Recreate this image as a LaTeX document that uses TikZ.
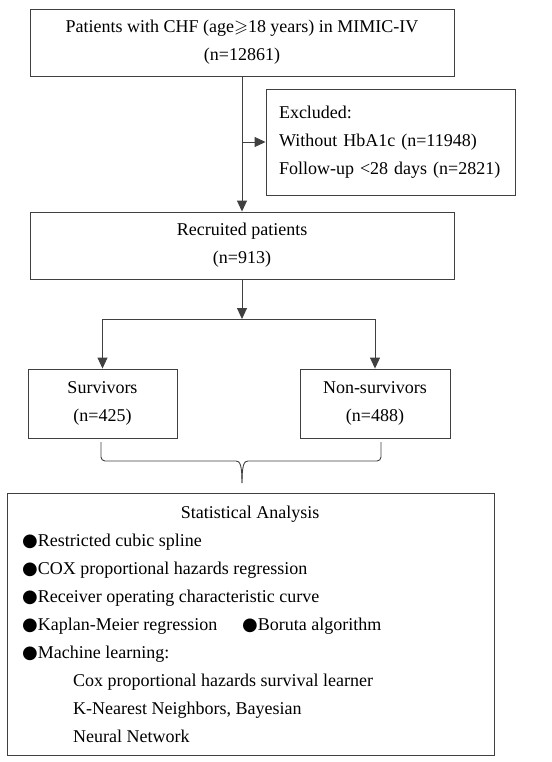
\documentclass[tikz,border=0pt]{standalone}
\usepackage{amssymb}
\usepackage{fontspec}
\setmainfont{Liberation Serif}
\newfontfamily\dotfont{DejaVu Sans}
\usetikzlibrary{arrows.meta}
\newcommand{\blt}{{\dotfont ●}}
\tikzset{
  box/.style={draw=black!75, line width=0.9pt, inner sep=0pt, align=center},
  txt/.style={font=\fontsize{18}{28}\selectfont},
  link/.style={draw=black!75, line width=0.9pt},
  arr/.style={link, -{Triangle[length=11pt,width=10pt]}}
}
\begin{document}
\begin{tikzpicture}[x=1pt,y=-1pt,txt]
\useasboundingbox (0,0) rectangle (551,762);

\node[box, minimum width=424pt, minimum height=67pt] (pop) at (242,42.5)
  {Patients with CHF (age$\geqslant$18 years) in MIMIC-IV\\(n=12861)};
\node[box, minimum width=249pt, minimum height=106pt, text width=223pt,
  inner xsep=13pt, align=left] (excl) at (390.5,142)
  {Excluded:\\Without HbA1c (n=11948)\\Follow-up <28 days (n=2821)};
\node[box, minimum width=424pt, minimum height=67pt] (recr) at (242,245.5)
  {Recruited patients\\(n=913)};
\node[box, minimum width=149pt, minimum height=69pt] (surv) at (102.5,403.5)
  {Survivors\\(n=425)};
\node[box, minimum width=150pt, minimum height=69pt] (nonsurv) at (375,403.5)
  {Non-survivors\\(n=488)};
\node[box, minimum width=487pt, minimum height=262pt] (stats) at (250.5,624) {};
\node (statshead) at (250,514) {Statistical Analysis};
\node[anchor=west, align=left, inner sep=0pt] (statslist) at (22,638)
  {\blt Restricted cubic spline\\
   \blt COX proportional hazards regression\\
   \blt Receiver operating characteristic curve\\
   \makebox[220pt][l]{\blt Kaplan-Meier regression}\blt Boruta algorithm\\
   \blt Machine learning:\\
   \hspace*{51pt}Cox proportional hazards survival learner\\
   \hspace*{51pt}K-Nearest Neighbors, Bayesian\\
   \hspace*{51pt}Neural Network};

% flow
\draw[arr] (pop) -- (recr);
\draw[arr] (pop.south |- excl.west) -- (excl.west);
\coordinate (split) at (242,319);
\draw[arr] (recr.south) -- (split);
\draw[link] (surv.north |- split) -- (nonsurv.north |- split);
\draw[arr] (surv.north |- split) -- (surv.north);
\draw[arr] (nonsurv.north |- split) -- (nonsurv.north);

% brace
\coordinate (tip) at (242,483);
\draw[link] (101,442) -- (101,457) arc[start angle=180,end angle=90,x radius=4pt,y radius=-4pt]
  -- (236,461) .. controls (240,461) and (242,465) .. (tip);
\draw[link] (381,442) -- (381,457) arc[start angle=0,end angle=90,x radius=4pt,y radius=-4pt]
  -- (248,461) .. controls (244,461) and (242,465) .. (tip);
\end{tikzpicture}
\end{document}
